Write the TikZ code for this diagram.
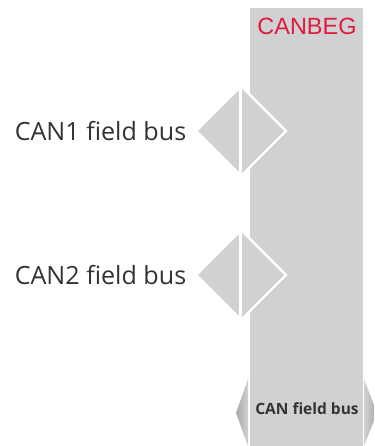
\documentclass[tikz,border=0pt]{standalone}
\usepackage{fontspec}
\setmainfont{Open Sans}
\newfontfamily\arialfont{Liberation Sans}
\definecolor{busgray}{RGB}{208,209,211}
\definecolor{darkgray}{RGB}{168,169,171}
\definecolor{canred}{RGB}{226,26,60}
\definecolor{textgray}{RGB}{51,51,51}
\tikzset{
  portlabel/.style={font=\fontsize{25.1}{30}\selectfont, text=textgray, inner sep=0pt},
  portdiamond/.style={fill=busgray},
  gapline/.style={white, line width=3pt},
  edgeline/.style={white, line width=2.4pt, line join=miter},
}
\begin{document}
\begin{tikzpicture}[x=1pt, y=-1pt]
  \useasboundingbox (0,0) rectangle (374,446);
  % main bus block
  \fill[busgray] (249.5,8) rectangle (363,446);
  \node[font=\arialfont\fontsize{23.5}{28}\selectfont, text=canred, anchor=base, inner sep=0pt] (title) at (307,35) {CANBEG};

  % field bus ports
  \foreach \cy/\lbl/\nm in {131/CAN1 field bus/one, 275/CAN2 field bus/two} {
    \fill[portdiamond] (198,\cy) -- (242,\cy-44) -- (286,\cy) -- (242,\cy+44) -- cycle;
    \draw[edgeline] (242,\cy-44) -- (286,\cy) -- (242,\cy+44);
    \draw[gapline] (240.5,\cy-49) -- (240.5,\cy+49);
    \node[portlabel, anchor=base] (lbl\nm) at (100.5,\cy+9.7) {\lbl};
  }

  % bottom connector arrows
  \shade[left color=darkgray, right color=busgray] (248,379) -- (236,413) -- (248,446) -- cycle;
  \begin{scope}
    \clip (0,0) rectangle (374,446);
    \shade[left color=busgray, right color=darkgray] (364,379) -- (377,413) -- (364,446) -- cycle;
  \end{scope}
  \node[font=\bfseries\fontsize{15.5}{18}\selectfont, text=textgray, anchor=base, inner sep=0pt] (busname) at (307,414) {CAN field bus};
\end{tikzpicture}
\end{document}
